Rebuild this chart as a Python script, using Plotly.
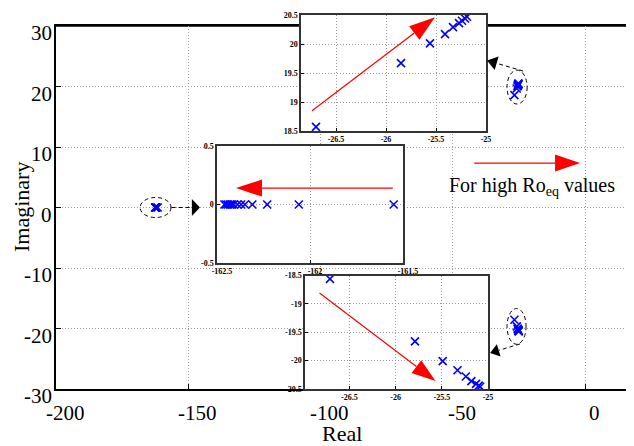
import math
import plotly.graph_objects as go

# ---------------- data ----------------
left_re = [-162.46, -162.45, -162.44, -162.43, -162.42, -162.41, -162.39,
           -162.37, -162.35, -162.31, -162.23, -162.06, -161.55]
left_im = [0.0] * len(left_re)
top_re = [-26.70, -25.85, -25.56, -25.41, -25.33, -25.27, -25.24, -25.21, -25.19]
top_im = [18.57, 19.67, 20.01, 20.17, 20.29, 20.36, 20.40, 20.44, 20.47]
bot_re = [-26.71, -25.79, -25.49, -25.33, -25.24, -25.18, -25.13, -25.10, -25.085]
bot_im = [-18.56, -19.66, -20.01, -20.17, -20.28, -20.36, -20.41, -20.44, -20.46]

main_xticks = [-200, -150, -100, -50, 0]
main_yticks = [-30, -20, -10, 0, 10, 20, 30]
top_xticks = [-26.5, -26, -25.5, -25]
top_yticks = [18.5, 19, 19.5, 20, 20.5]
mid_xticks = [-162.5, -162, -161.5]
mid_yticks = [-0.5, 0, 0.5]
bot_xticks = [-26.5, -26, -25.5, -25]
bot_yticks = [-20.5, -20, -19.5, -19, -18.5]

def lab(v):
    return "%g" % v

# ---------------- layout geometry (window pixels; page body adds 8px) ----------------
OFF = 8
FW, FH = 634, 446
S_LEFT, S_RIGHT, S_TOP, S_BOT = 56, 634, 12, 389
ML, MR, MT, MB = S_LEFT - OFF, FW - S_RIGHT + OFF, S_TOP - OFF, FH - S_BOT + OFF
PW, PH = S_RIGHT - S_LEFT, S_BOT - S_TOP

def px2p(px):
    return (px - S_LEFT) / PW
def py2p(py):
    return (S_BOT - py) / PH
def dx(p0, p1):
    return [max(0, px2p(p0)), min(1, px2p(p1))]
def dy(ptop, pbot):
    return [max(0, py2p(pbot)), min(1, py2p(ptop))]

main_xr, main_yr = [-200, 18.5], [-30, 30]
top_xr, top_yr = [-26.85, -25], [18.5, 20.5]
mid_xr, mid_yr = [-162.5, -161.5], [-0.5, 0.5]
bot_xr, bot_yr = [-26.98, -25], [-20.5, -18.5]

main_dx, main_dy = dx(56, 634), dy(26, 389)
top_dx, top_dy = dx(301, 486), dy(15, 131)
mid_dx, mid_dy = dx(217, 403), dy(146, 263)
bot_dx, bot_dy = dx(305, 488), dy(275.5, 389)

def scale(dom, rng, size):
    return (dom[1] - dom[0]) * size / (rng[1] - rng[0])

SERIF = "Liberation Serif"
GRID = "#9a9a9a"
GDASH = "1px,2px"

fig = go.Figure()
mk = dict(symbol="x-thin", size=8, color="blue", line=dict(width=1.6, color="blue"))
fig.add_trace(go.Scatter(x=left_re, y=left_im, mode="markers", marker=mk, xaxis="x", yaxis="y"))
fig.add_trace(go.Scatter(x=top_re, y=top_im, mode="markers", marker=mk, xaxis="x", yaxis="y"))
fig.add_trace(go.Scatter(x=bot_re, y=bot_im, mode="markers", marker=mk, xaxis="x", yaxis="y"))
fig.add_trace(go.Scatter(x=top_re, y=top_im, mode="markers", marker=mk, xaxis="x2", yaxis="y2"))
fig.add_trace(go.Scatter(x=bot_re, y=bot_im, mode="markers", marker=mk, xaxis="x3", yaxis="y3"))
fig.add_trace(go.Scatter(x=left_re, y=left_im, mode="markers", marker=mk, xaxis="x4", yaxis="y4"))

MAIN_FS = 21
inset_font = dict(family=SERIF, size=8, color="black", weight="bold")

def ax(dom, rng, ticks, anchor, mirror, ticklen=3, lw=1.5, lc="#333", labels=True, **kw):
    d = dict(domain=dom, range=rng, tickmode="array", tickvals=ticks,
             ticktext=[lab(t) for t in ticks], tickfont=inset_font, anchor=anchor,
             showline=True, linecolor=lc, linewidth=lw, mirror=mirror,
             ticks="inside", ticklen=ticklen, tickcolor="black",
             showgrid=True, gridcolor=GRID, griddash=GDASH, gridwidth=1,
             zeroline=False, showticklabels=labels, automargin=False)
    d.update(kw)
    return d

layout = dict(
    width=FW, height=FH, margin=dict(l=ML, r=MR, t=MT, b=MB, autoexpand=False),
    paper_bgcolor="white", plot_bgcolor="white", showlegend=False,
    font=dict(family=SERIF, color="black"),
)
layout["xaxis"] = ax(main_dx, main_xr, main_xticks, "y", True, ticklen=5, lc="black", labels=False)
layout["yaxis"] = ax(main_dy, main_yr, main_yticks, "x", False, ticklen=5, lc="black", labels=False)
layout["xaxis2"] = ax(top_dx, top_xr, top_xticks, "y2", True)
layout["yaxis2"] = ax(top_dy, top_yr, top_yticks, "x2", True)
layout["xaxis3"] = ax(bot_dx, bot_xr, bot_xticks, "y3", True)
layout["yaxis3"] = ax(bot_dy, bot_yr, bot_yticks, "x3", True)
layout["xaxis4"] = ax(mid_dx, mid_xr, mid_xticks, "y4", True, ticklabelshift=5)
layout["yaxis4"] = ax(mid_dy, mid_yr, mid_yticks, "x4", True)
fig.update_layout(**layout)

# ---------------- arrows & decorations ----------------
scales = {
    "": (scale(main_dx, main_xr, PW), scale(main_dy, main_yr, PH)),
    "2": (scale(top_dx, top_xr, PW), scale(top_dy, top_yr, PH)),
    "3": (scale(bot_dx, bot_xr, PW), scale(bot_dy, bot_yr, PH)),
    "4": (scale(mid_dx, mid_xr, PW), scale(mid_dy, mid_yr, PH)),
}

shapes = []
shapes.append(dict(type="line", xref="paper", yref="paper", x0=0, x1=1,
                   y0=main_dy[1], y1=main_dy[1], line=dict(color="black", width=1.5),
                   layer="below"))

def arrow(ax_id, x0, y0, x1, y1, L, Wd, color, dash="solid", lw=1.2):
    sx, sy = scales[ax_id]
    xr, yr = "x" + ax_id, "y" + ax_id
    ddx, ddy = (x1 - x0) * sx, (y1 - y0) * sy
    n = math.hypot(ddx, ddy)
    ux, uy = ddx / n, ddy / n
    bx, by = -L * ux, -L * uy
    xe, ye = x1 + bx / sx, y1 + by / sy
    shapes.append(dict(type="line", xref=xr, yref=yr, x0=x0, y0=y0, x1=xe, y1=ye,
                       line=dict(color=color, width=lw, dash=dash), layer="above"))
    px, py = -uy, ux
    p1 = (bx + Wd / 2 * px, by + Wd / 2 * py)
    p2 = (bx - Wd / 2 * px, by - Wd / 2 * py)
    path = "M0,0 L%.2f,%.2f L%.2f,%.2f Z" % (p1[0], p1[1], p2[0], p2[1])
    shapes.append(dict(type="path", xref=xr, yref=yr, xsizemode="pixel", ysizemode="pixel",
                       xanchor=x1, yanchor=y1, path=path, fillcolor=color,
                       line=dict(width=0), layer="above"))

# red arrows
arrow("", -41.9, 7.35, -1.9, 7.35, 25, 17, "#ff0000")
arrow("2", -26.74, 18.85, -25.51, 20.46, 26, 17, "#ff0000")
arrow("4", -161.555, 0.14, -162.398, 0.14, 26, 17, "#ff0000")
arrow("3", -26.823, -18.81, -25.568, -20.36, 24, 16, "#ff0000")

# dashed ellipses
for (x0, x1, y0, y1) in [(-168.2, -156.5, -1.66, 1.66),
                         (-29.5, -21.9, 17.1, 22.7),
                         (-29.5, -22.3, -22.6, -16.7)]:
    shapes.append(dict(type="circle", xref="x", yref="y", x0=x0, x1=x1, y0=y0, y1=y1,
                       line=dict(color="black", width=1, dash="4px,3px"), layer="above"))

# black dashed pointers
arrow("", -156.3, 0.0, -145.6, 0.0, 8, 17, "black", dash="4px,3px", lw=1)
arrow("", -23.4, 22.55, -37.05, 24.3, 10, 14, "black", dash="4px,3px", lw=1)
arrow("", -24.6, -22.55, -35.9, -24.05, 9, 13, "black", dash="4px,3px", lw=1)

fig.update_layout(shapes=shapes)

# main tick labels (placed like the reference, slightly offset from the ticks)
for t in main_xticks:
    fig.add_annotation(x=t, y=py2p(413), xref="x", yref="paper", showarrow=False,
                       text=lab(t), xshift=9, xanchor="center", yanchor="middle",
                       borderpad=0, font=dict(family=SERIF, size=MAIN_FS, color="black"))
for t in main_yticks:
    fig.add_annotation(x=px2p(53), y=t, xref="paper", yref="y", showarrow=False,
                       text=lab(t), xanchor="right", yanchor="middle", yshift=-7,
                       borderpad=0, font=dict(family=SERIF, size=MAIN_FS, color="black"))

fig.add_annotation(x=-20.0, y=3.4, xref="x", yref="y", showarrow=False,
                   text="For high Ro<sub>eq</sub> values", xanchor="center", yanchor="middle",
                   font=dict(family=SERIF, size=20, color="black"))
fig.add_annotation(x=px2p(342), y=py2p(433.5), xref="paper", yref="paper", showarrow=False,
                   text="Real", xanchor="center", yanchor="middle", borderpad=0,
                   font=dict(family=SERIF, size=22, color="black"))
fig.add_annotation(x=px2p(22), y=py2p(207), xref="paper", yref="paper", showarrow=False,
                   text="Imaginary", textangle=-90, xanchor="center", yanchor="middle",
                   borderpad=0, font=dict(family=SERIF, size=22, color="black"))

fig.write_html("out.html")
